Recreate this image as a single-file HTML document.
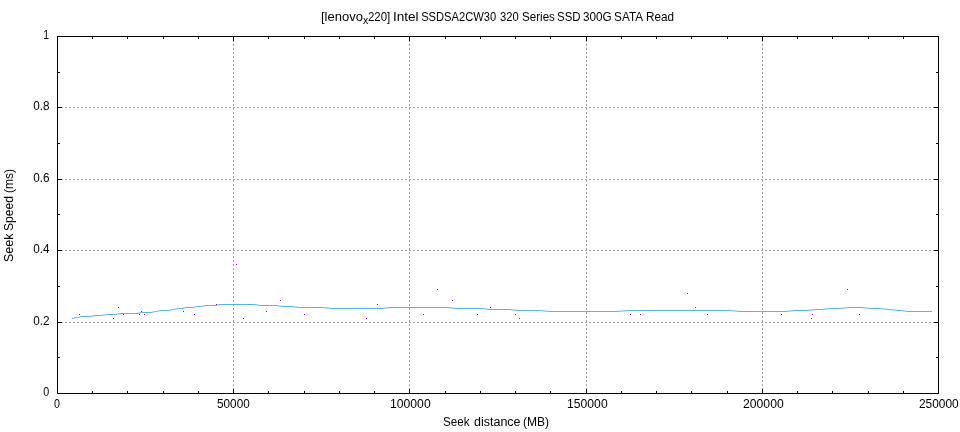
<!DOCTYPE html>
<html><head><meta charset="utf-8"><style>
html,body{margin:0;padding:0;background:#fff;}
svg{display:block;will-change:transform;}
text{font-family:"Liberation Sans",sans-serif;font-size:12.5px;fill:#000;}
</style></head><body>
<svg width="960" height="432" viewBox="0 0 960 432">
<rect x="0" y="0" width="960" height="432" fill="#fff"/>
<g shape-rendering="crispEdges">
<line x1="233.5" y1="36" x2="233.5" y2="394" stroke="#a0a0a0" stroke-width="1" stroke-dasharray="2 2"/>
<line x1="409.5" y1="36" x2="409.5" y2="394" stroke="#a0a0a0" stroke-width="1" stroke-dasharray="2 2"/>
<line x1="586.5" y1="36" x2="586.5" y2="394" stroke="#a0a0a0" stroke-width="1" stroke-dasharray="2 2"/>
<line x1="762.5" y1="36" x2="762.5" y2="394" stroke="#a0a0a0" stroke-width="1" stroke-dasharray="2 2"/>
<line x1="57" y1="322.5" x2="939" y2="322.5" stroke="#a0a0a0" stroke-width="1" stroke-dasharray="2 2"/>
<line x1="57" y1="250.5" x2="939" y2="250.5" stroke="#a0a0a0" stroke-width="1" stroke-dasharray="2 2"/>
<line x1="57" y1="179.5" x2="939" y2="179.5" stroke="#a0a0a0" stroke-width="1" stroke-dasharray="2 2"/>
<line x1="57" y1="107.5" x2="939" y2="107.5" stroke="#a0a0a0" stroke-width="1" stroke-dasharray="2 2"/>
<rect x="57" y="36" width="882" height="1" fill="#000"/>
<rect x="57" y="393" width="882" height="1" fill="#000"/>
<rect x="57" y="36" width="1" height="358" fill="#000"/>
<rect x="938" y="36" width="1" height="358" fill="#000"/>
<rect x="57" y="389" width="1" height="4" fill="#000"/>
<rect x="57" y="37" width="1" height="4" fill="#000"/>
<rect x="92" y="391" width="1" height="2" fill="#000"/>
<rect x="92" y="37" width="1" height="2" fill="#000"/>
<rect x="127" y="391" width="1" height="2" fill="#000"/>
<rect x="127" y="37" width="1" height="2" fill="#000"/>
<rect x="163" y="391" width="1" height="2" fill="#000"/>
<rect x="163" y="37" width="1" height="2" fill="#000"/>
<rect x="198" y="391" width="1" height="2" fill="#000"/>
<rect x="198" y="37" width="1" height="2" fill="#000"/>
<rect x="233" y="389" width="1" height="4" fill="#000"/>
<rect x="233" y="37" width="1" height="4" fill="#000"/>
<rect x="268" y="391" width="1" height="2" fill="#000"/>
<rect x="268" y="37" width="1" height="2" fill="#000"/>
<rect x="304" y="391" width="1" height="2" fill="#000"/>
<rect x="304" y="37" width="1" height="2" fill="#000"/>
<rect x="339" y="391" width="1" height="2" fill="#000"/>
<rect x="339" y="37" width="1" height="2" fill="#000"/>
<rect x="374" y="391" width="1" height="2" fill="#000"/>
<rect x="374" y="37" width="1" height="2" fill="#000"/>
<rect x="409" y="389" width="1" height="4" fill="#000"/>
<rect x="409" y="37" width="1" height="4" fill="#000"/>
<rect x="445" y="391" width="1" height="2" fill="#000"/>
<rect x="445" y="37" width="1" height="2" fill="#000"/>
<rect x="480" y="391" width="1" height="2" fill="#000"/>
<rect x="480" y="37" width="1" height="2" fill="#000"/>
<rect x="515" y="391" width="1" height="2" fill="#000"/>
<rect x="515" y="37" width="1" height="2" fill="#000"/>
<rect x="550" y="391" width="1" height="2" fill="#000"/>
<rect x="550" y="37" width="1" height="2" fill="#000"/>
<rect x="586" y="389" width="1" height="4" fill="#000"/>
<rect x="586" y="37" width="1" height="4" fill="#000"/>
<rect x="621" y="391" width="1" height="2" fill="#000"/>
<rect x="621" y="37" width="1" height="2" fill="#000"/>
<rect x="656" y="391" width="1" height="2" fill="#000"/>
<rect x="656" y="37" width="1" height="2" fill="#000"/>
<rect x="691" y="391" width="1" height="2" fill="#000"/>
<rect x="691" y="37" width="1" height="2" fill="#000"/>
<rect x="727" y="391" width="1" height="2" fill="#000"/>
<rect x="727" y="37" width="1" height="2" fill="#000"/>
<rect x="762" y="389" width="1" height="4" fill="#000"/>
<rect x="762" y="37" width="1" height="4" fill="#000"/>
<rect x="797" y="391" width="1" height="2" fill="#000"/>
<rect x="797" y="37" width="1" height="2" fill="#000"/>
<rect x="832" y="391" width="1" height="2" fill="#000"/>
<rect x="832" y="37" width="1" height="2" fill="#000"/>
<rect x="868" y="391" width="1" height="2" fill="#000"/>
<rect x="868" y="37" width="1" height="2" fill="#000"/>
<rect x="903" y="391" width="1" height="2" fill="#000"/>
<rect x="903" y="37" width="1" height="2" fill="#000"/>
<rect x="938" y="389" width="1" height="4" fill="#000"/>
<rect x="938" y="37" width="1" height="4" fill="#000"/>
<rect x="58" y="393" width="4" height="1" fill="#000"/>
<rect x="934" y="393" width="4" height="1" fill="#000"/>
<rect x="58" y="357" width="2" height="1" fill="#000"/>
<rect x="936" y="357" width="2" height="1" fill="#000"/>
<rect x="58" y="322" width="4" height="1" fill="#000"/>
<rect x="934" y="322" width="4" height="1" fill="#000"/>
<rect x="58" y="286" width="2" height="1" fill="#000"/>
<rect x="936" y="286" width="2" height="1" fill="#000"/>
<rect x="58" y="250" width="4" height="1" fill="#000"/>
<rect x="934" y="250" width="4" height="1" fill="#000"/>
<rect x="58" y="214" width="2" height="1" fill="#000"/>
<rect x="936" y="214" width="2" height="1" fill="#000"/>
<rect x="58" y="179" width="4" height="1" fill="#000"/>
<rect x="934" y="179" width="4" height="1" fill="#000"/>
<rect x="58" y="143" width="2" height="1" fill="#000"/>
<rect x="936" y="143" width="2" height="1" fill="#000"/>
<rect x="58" y="107" width="4" height="1" fill="#000"/>
<rect x="934" y="107" width="4" height="1" fill="#000"/>
<rect x="58" y="72" width="2" height="1" fill="#000"/>
<rect x="936" y="72" width="2" height="1" fill="#000"/>
<rect x="58" y="36" width="4" height="1" fill="#000"/>
<rect x="934" y="36" width="4" height="1" fill="#000"/>
</g>
<polyline points="72,318.5 76.75,317.5 82,316.5 90,316.5 95,315.5 101,315.5 107,314.5 115.5,314.5 121,313.5 137,313.5 142,312.5 151,312.5 155.5,311.5 161,310.5 168,310.5 173.8,309.5 178.5,308.5 182,308.5 186,307.5 193,307.5 197,306.5 200.5,306.5 206,305.5 215,305.5 220,304.5 254,304.5 261,305.5 276,305.5 283,306.5 292,306.5 299,307.5 323.5,307.5 331,308.5 382,308.5 390,307.5 448,307.5 456,308.5 483,308.5 489,309.5 509,309.5 519,310.5 539,310.5 550,311.5 616,311.5 629,310.5 729,310.5 741,311.5 785,311.5 795,310.5 807,310.5 816,309.5 821,309.5 830,308.5 839,308.5 849,307.5 861,307.5 872,308.5 879,308.5 889,309.5 898,310.5 901.5,310.5 908,311.5 932,311.5" fill="none" stroke="#56b4e9" stroke-width="1"/>
<rect x="79" y="314" width="1" height="1" fill="#9400d3"/>
<rect x="113" y="318" width="1" height="1" fill="#9400d3"/>
<rect x="118" y="307" width="1" height="1" fill="#9400d3"/>
<rect x="123" y="314" width="1" height="1" fill="#9400d3"/>
<rect x="139" y="314" width="1" height="1" fill="#9400d3"/>
<rect x="141" y="311" width="1" height="1" fill="#9400d3"/>
<rect x="144" y="314" width="1" height="1" fill="#9400d3"/>
<rect x="183" y="311" width="1" height="1" fill="#9400d3"/>
<rect x="194" y="314" width="1" height="1" fill="#9400d3"/>
<rect x="216" y="304" width="1" height="1" fill="#9400d3"/>
<rect x="236" y="264" width="1" height="1" fill="#9400d3"/>
<rect x="243" y="318" width="1" height="1" fill="#9400d3"/>
<rect x="266" y="311" width="1" height="1" fill="#9400d3"/>
<rect x="280" y="300" width="1" height="1" fill="#9400d3"/>
<rect x="304" y="314" width="1" height="1" fill="#9400d3"/>
<rect x="366" y="318" width="1" height="1" fill="#9400d3"/>
<rect x="377" y="304" width="1" height="1" fill="#9400d3"/>
<rect x="423" y="314" width="1" height="1" fill="#9400d3"/>
<rect x="437" y="289" width="1" height="1" fill="#9400d3"/>
<rect x="452" y="300" width="1" height="1" fill="#9400d3"/>
<rect x="477" y="314" width="1" height="1" fill="#9400d3"/>
<rect x="490" y="307" width="1" height="1" fill="#9400d3"/>
<rect x="515" y="314" width="1" height="1" fill="#9400d3"/>
<rect x="519" y="318" width="1" height="1" fill="#9400d3"/>
<rect x="630" y="314" width="1" height="1" fill="#9400d3"/>
<rect x="640" y="314" width="1" height="1" fill="#9400d3"/>
<rect x="687" y="293" width="1" height="1" fill="#9400d3"/>
<rect x="695" y="307" width="1" height="1" fill="#9400d3"/>
<rect x="707" y="314" width="1" height="1" fill="#9400d3"/>
<rect x="781" y="314" width="1" height="1" fill="#9400d3"/>
<rect x="812" y="314" width="1" height="1" fill="#9400d3"/>
<rect x="811" y="318" width="1" height="1" fill="#9400d3"/>
<rect x="847" y="289" width="1" height="1" fill="#9400d3"/>
<rect x="859" y="314" width="1" height="1" fill="#9400d3"/>
<text transform="translate(43.20,396.2) scale(0.8571,1)">0</text>
<text transform="translate(33.20,325.2) scale(0.9412,1)">0.2</text>
<text transform="translate(33.20,253.2) scale(0.9412,1)">0.4</text>
<text transform="translate(33.20,182.2) scale(0.9412,1)">0.6</text>
<text transform="translate(33.20,110.2) scale(0.9412,1)">0.8</text>
<text transform="translate(43.37,39.2) scale(0.8333,1)">1</text>
<text transform="translate(54.00,408.2) scale(0.8571,1)">0</text>
<text transform="translate(217.00,408.2) scale(0.9429,1)">50000</text>
<text transform="translate(390.02,408.2) scale(0.9756,1)">100000</text>
<text transform="translate(567.02,408.2) scale(0.9756,1)">150000</text>
<text transform="translate(743.00,408.2) scale(0.9762,1)">200000</text>
<text transform="translate(919.00,408.2) scale(0.9524,1)">250000</text>
<text transform="translate(443.07,426) scale(0.9286,1)">Seek</text>
<text transform="translate(474.00,426) scale(1.0000,1)">distance</text>
<text transform="translate(523.04,426) scale(0.9615,1)">(MB)</text>
<text transform="translate(13,262.00) rotate(-90) scale(1.0000,1)">Seek</text>
<text transform="translate(13,230.97) rotate(-90) scale(0.9714,1)">Speed</text>
<text transform="translate(13,192.96) rotate(-90) scale(0.9583,1)">(ms)</text>
<text style="font-size:13px" transform="translate(321.00,20.8) scale(1.0000,1)">[lenovo</text>
<text style="font-size:13px" transform="translate(368.00,20.8) scale(0.8800,1)">220]</text>
<text style="font-size:13px" transform="translate(392.96,20.8) scale(1.0435,1)">Intel</text>
<text style="font-size:13px" transform="translate(421.14,20.8) scale(0.8605,1)">SSDSA2CW30</text>
<text style="font-size:13px" transform="translate(500.00,20.8) scale(0.8636,1)">320</text>
<text style="font-size:13px" transform="translate(522.11,20.8) scale(0.8889,1)">Series</text>
<text style="font-size:13px" transform="translate(557.12,20.8) scale(0.8800,1)">SSD</text>
<text style="font-size:13px" transform="translate(583.00,20.8) scale(0.9032,1)">300G</text>
<text style="font-size:13px" transform="translate(614.10,20.8) scale(0.9032,1)">SATA</text>
<text style="font-size:13px" transform="translate(646.10,20.8) scale(0.9000,1)">Read</text>
<text style="font-size:10.5px" transform="translate(363.00,23.7) scale(1.0000,1)">x</text>
</svg>
</body></html>
